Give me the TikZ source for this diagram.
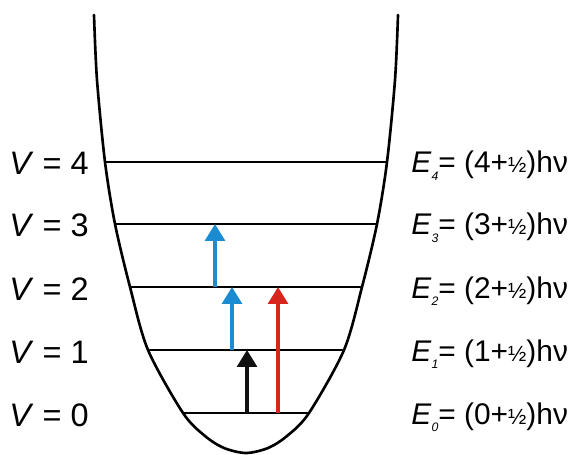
\documentclass[tikz,border=0pt]{standalone}
\usepackage{fontspec}
\setsansfont{Liberation Sans}
\usetikzlibrary{arrows.meta}
\definecolor{jumpblue}{HTML}{1B8CD2}
\definecolor{jumpred}{HTML}{D9261C}
\definecolor{jumpblack}{HTML}{111111}

\begin{document}
\begin{tikzpicture}[
  x=0.02cm,
  y=-0.02cm,
  font=\sffamily,
  well/.style={line width=1.5pt, line cap=round},
  level/.style={line width=1.3pt},
  vlabel/.style={anchor=base east, inner sep=0pt, font=\sffamily\fontsize{18.5}{20}\selectfont},
  elabel/.style={anchor=base west, inner sep=0pt, font=\sffamily\fontsize{17}{18}\selectfont},
  jump/.style={-{Triangle[length=3.4mm, width=4mm]}, line width=1.8pt}
]
\useasboundingbox (0,0) rectangle (580,455);

\draw[well] plot[smooth, tension=0.5] coordinates {(94,15) (97,80) (105,162) (115,224) (130,287) (148,350) (183,413) (205,436) (224,448) (246,453) (268,448) (287,436) (309,413) (344,350) (362,287) (377,224) (387,162) (395,80) (398,15)};

\foreach \v/\y/\w in {0/413/63, 1/350/98, 2/287/116, 3/224/131, 4/162/141} {
  \draw[level] (246-\w,\y) -- (246+\w,\y);
  \node[vlabel] (v\v) at (89,\y+13) {\textit{V} = \v};
  \node[elabel] (e\v) at (411,\y+11) {\textit{E}\raisebox{-0.45ex}{\scriptsize\textit{\v}}= (\v+{\fontsize{12.5}{13}\selectfont ½})hν};
}

\coordinate (blueA0) at (215,287);
\coordinate (blueA1) at (215,224);
\coordinate (blueB0) at (232,350);
\coordinate (blueB1) at (232,287);
\coordinate (black0) at (247,413);
\coordinate (black1) at (247,350);
\coordinate (red0) at (278,413);
\coordinate (red1) at (278,287);

\draw[jump, draw=jumpblue] (blueA0) -- (blueA1);
\draw[jump, draw=jumpblue] (blueB0) -- (blueB1);
\draw[jump, draw=jumpblack] (black0) -- (black1);
\draw[jump, draw=jumpred] (red0) -- (red1);

\end{tikzpicture}
\end{document}
